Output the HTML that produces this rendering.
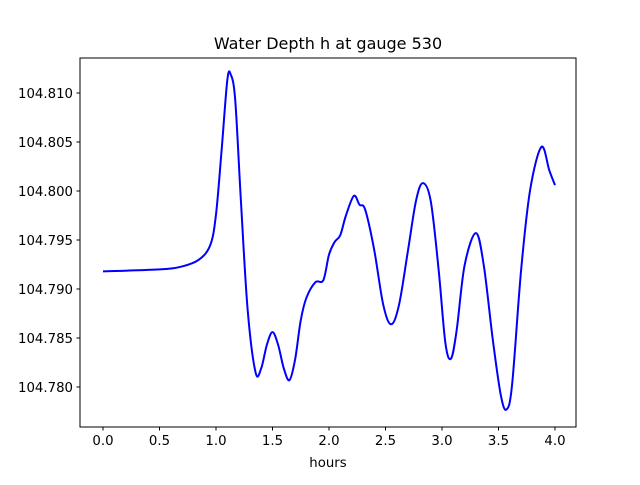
<!DOCTYPE html>
<html><head><meta charset="utf-8"><style>
body{margin:0;background:#fff}
svg text{font-family:"DejaVu Sans","Liberation Sans",sans-serif;fill:#000}
</style></head><body>
<svg id="chart" width="640" height="480" xmlns="http://www.w3.org/2000/svg">
<rect width="640" height="480" fill="#fff"/>
<text x="328" y="49" font-size="16" text-anchor="middle">Water Depth h at gauge 530</text>
<text x="328" y="467" font-size="13.3" text-anchor="middle">hours</text>
<g id="ticks"></g>
<path id="line" fill="none" stroke="#0000ff" stroke-width="2"/>
<rect x="80" y="58" width="496" height="369" fill="none" stroke="#000" stroke-width="1"/>
</svg>
<script>
const times=[0,0.5,0.7,0.85,0.95,1.0,1.05,1.1,1.13,1.17,1.22,1.28,1.35,1.4,1.45,1.5,1.55,1.6,1.65,1.7,1.75,1.8,1.88,1.95,2.0,2.05,2.1,2.15,2.22,2.27,2.32,2.4,2.48,2.55,2.62,2.7,2.77,2.83,2.9,2.97,3.03,3.08,3.13,3.2,3.3,3.37,3.45,3.52,3.57,3.62,3.7,3.78,3.88,3.95,4.0];
const depth=[104.7918,104.7920,104.7923,104.7930,104.7945,104.7976,104.8042,104.8113,104.8119,104.8093,104.7991,104.7879,104.7815,104.7819,104.7843,104.7856,104.7843,104.7819,104.7807,104.7828,104.7868,104.7891,104.7907,104.7909,104.7935,104.7948,104.7955,104.7975,104.7995,104.7986,104.7981,104.7940,104.7884,104.7864,104.7884,104.7940,104.7990,104.8008,104.7990,104.7920,104.7845,104.7829,104.7858,104.7924,104.7957,104.7924,104.7848,104.7792,104.7777,104.7802,104.7919,104.8001,104.8045,104.8021,104.8006];
const xTicks=[0,0.5,1,1.5,2,2.5,3,3.5,4];
const xTickLabels=["0.0","0.5","1.0","1.5","2.0","2.5","3.0","3.5","4.0"];
const yTicks=[104.780,104.785,104.790,104.795,104.800,104.805,104.810];
const yTickLabels=["104.780","104.785","104.790","104.795","104.800","104.805","104.810"];
const X0=80,X1=576,Y0=427,Y1=58,xmin=-0.2035,xmax=4.186,ymin=104.77592,ymax=104.81357;
const sx=t=>X0+(t-xmin)/(xmax-xmin)*(X1-X0);
const sy=v=>Y0-(v-ymin)/(ymax-ymin)*(Y0-Y1);
const NS="http://www.w3.org/2000/svg";
const g=document.getElementById('ticks');
function mk(tag,attrs){const e=document.createElementNS(NS,tag);for(const k in attrs)e.setAttribute(k,attrs[k]);g.appendChild(e);return e;}
xTicks.forEach((t,i)=>{const x=sx(t);
 const l=mk('line',{x1:x,x2:x,y1:427,y2:430.5,stroke:'#000'});
 
 
 const tx=mk('text',{x:x,y:445,'font-size':'13.3','text-anchor':'middle'});tx.textContent=xTickLabels[i];
 
 });
yTicks.forEach((v,i)=>{const y=sy(v);
 const l=mk('line',{x1:76.5,x2:80,y1:y,y2:y,stroke:'#000'});
 
 
 const tx=mk('text',{x:73,y:y+5,'font-size':'13.3','text-anchor':'end'});tx.textContent=yTickLabels[i];
 
 });
const P=times.map((t,i)=>[sx(t),sy(depth[i])]);
let d='M'+P[0][0]+','+P[0][1];
for(let i=0;i<P.length-1;i++){const p0=P[Math.max(0,i-1)],p1=P[i],p2=P[i+1],p3=P[Math.min(P.length-1,i+2)];
 const c1=[p1[0]+(p2[0]-p0[0])/6,p1[1]+(p2[1]-p0[1])/6],c2=[p2[0]-(p3[0]-p1[0])/6,p2[1]-(p3[1]-p1[1])/6];
 d+=`C${c1[0]},${c1[1]} ${c2[0]},${c2[1]} ${p2[0]},${p2[1]}`;}
document.getElementById('line').setAttribute('d',d);
</script>
</body></html>
